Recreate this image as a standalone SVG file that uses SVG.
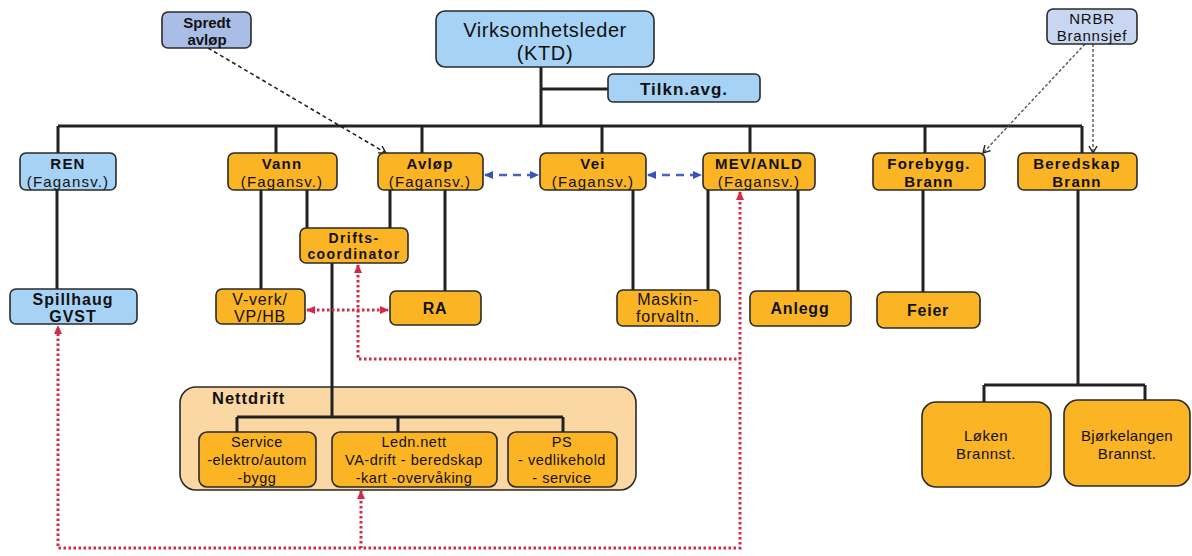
<svg xmlns="http://www.w3.org/2000/svg" width="1192" height="556" viewBox="0 0 1192 556">
<defs>
<style>
text{font-family:"Liberation Sans",Arial,sans-serif;fill:#111;text-anchor:middle}
.b{font-weight:bold}
.box{stroke:#2a2a2a;stroke-width:1.6}
.or{fill:#fbb424}
.bl{fill:#a6d3f5}
.l2{font-size:15px;letter-spacing:1.2px}
.l3{font-size:16px;letter-spacing:0.8px}
.sub{font-size:14.5px;letter-spacing:0.5px}
.tree{fill:none;stroke:#222;stroke-width:3}
.red{fill:none;stroke:#d42a45;stroke-width:3;stroke-dasharray:2.5 2.5}
.blu{fill:none;stroke:#4a62c4;stroke-width:2.5;stroke-dasharray:8 6}
.blk{fill:none;stroke:#222;stroke-width:1.6;stroke-dasharray:4 3}
.gry{fill:none;stroke:#555;stroke-width:1.4;stroke-dasharray:3 2}
</style>
<marker id="ao" markerWidth="10" markerHeight="10" refX="8" refY="5" orient="auto" markerUnits="userSpaceOnUse"><path d="M1,1 L8,5 L1,9" fill="none" stroke="#222" stroke-width="1.4"/></marker>
<marker id="ab" markerWidth="10" markerHeight="10" refX="8" refY="5" orient="auto-start-reverse" markerUnits="userSpaceOnUse"><path d="M0,1 L9,5 L0,9 Z" fill="#3a52b8"/></marker>
<marker id="ar" markerWidth="10" markerHeight="10" refX="8" refY="5" orient="auto-start-reverse" markerUnits="userSpaceOnUse"><path d="M0,1 L9,5 L0,9 Z" fill="#d42a45"/></marker>
</defs>
<rect width="1192" height="556" fill="#fff"/>

<g id="nettdrift"><rect class="box" x="180" y="387" width="456" height="103" rx="16" fill="#fbd7a3"/><text class="b" x="212" y="404" font-size="16.5" letter-spacing="1" style="text-anchor:start">Nettdrift</text></g>

<g id="connectors">
<path class="tree" d="M541,67 V126 M541,89 H608 M58,126 H1082 M58,126 V153 M276,126 V153 M422,126 V153 M602,126 V153 M750,126 V153 M925,126 V153 M1082,126 V153"/>
<path class="tree" d="M57,190 V289 M261,190 V289 M307,190 V228 M390,190 V228 M445,190 V291 M633,190 V290 M708,190 V290 M798,190 V291 M923,190 V292 M1078,190 V385 M984,385 H1145 M984,385 V402 M1145,385 V400"/>
<path class="tree" d="M332,263 V417 M237,417 H563 M237,417 V432 M398,417 V432 M563,417 V432"/>
<path class="blk" d="M208,48 L386,153" marker-end="url(#ao)"/>
<path class="gry" d="M1085,44 L983,153" marker-end="url(#ao)"/>
<path class="gry" d="M1093,44 V153" marker-end="url(#ao)"/>
<path class="blu" d="M485,175 H538" marker-start="url(#ab)" marker-end="url(#ab)"/>
<path class="blu" d="M648,175 H701" marker-start="url(#ab)" marker-end="url(#ab)"/>
<path class="red" d="M307,310 H388" marker-start="url(#ar)" marker-end="url(#ar)"/>
<path class="red" d="M358,265 V359 H740" marker-start="url(#ar)"/>
<path class="red" d="M740,192 V548 H58 V326" marker-start="url(#ar)" marker-end="url(#ar)"/>
<path class="red" d="M361,491 V548" marker-start="url(#ar)"/>
</g>

<g id="spredt"><rect class="box" x="162" y="12" width="89" height="36" rx="6" fill="#a9bde6"/><text class="b" x="207" y="28" font-size="15">Spredt</text><text class="b" x="207" y="45" font-size="15">avløp</text></g>
<g id="ktd"><rect class="box bl" x="436" y="11" width="218" height="56" rx="9"/><text x="545" y="37" font-size="20" letter-spacing="0.6">Virksomhetsleder</text><text x="545" y="60" font-size="20" letter-spacing="0.6">(KTD)</text></g>
<g id="tilkn"><rect class="box bl" x="608" y="74" width="152" height="28" rx="5"/><text class="b" x="684" y="95" font-size="17" letter-spacing="1">Tilkn.avg.</text></g>
<g id="nrbr"><rect class="box" x="1047" y="9" width="90" height="35" rx="6" fill="#c9d6f2"/><text x="1092" y="24" font-size="15" letter-spacing="0.8">NRBR</text><text x="1092" y="41" font-size="15" letter-spacing="0.8">Brannsjef</text></g>

<g id="ren"><rect class="box bl" x="20" y="153" width="96" height="37" rx="6"/><text class="b l2" x="68" y="169">REN</text><text class="l2" x="68" y="187">(Fagansv.)</text></g>
<g id="vann"><rect class="box or" x="228" y="153" width="109" height="37" rx="6"/><text class="b l2" x="282" y="169">Vann</text><text class="l2" x="282" y="187">(Fagansv.)</text></g>
<g id="avlop"><rect class="box or" x="378" y="153" width="105" height="37" rx="6"/><text class="b l2" x="430" y="169">Avløp</text><text class="l2" x="430" y="187">(Fagansv.)</text></g>
<g id="vei"><rect class="box or" x="540" y="153" width="106" height="37" rx="6"/><text class="b l2" x="593" y="169">Vei</text><text class="l2" x="593" y="187">(Fagansv.)</text></g>
<g id="mev"><rect class="box or" x="703" y="153" width="112" height="37" rx="6"/><text class="b l2" x="759" y="169">MEV/ANLD</text><text class="l2" x="759" y="187">(Fagansv.)</text></g>
<g id="forebygg"><rect class="box or" x="873" y="153" width="112" height="37" rx="6"/><text class="b l2" x="929" y="169" letter-spacing="1.8">Forebygg.</text><text class="b l2" x="929" y="187" letter-spacing="1.8">Brann</text></g>
<g id="beredskap"><rect class="box or" x="1018" y="153" width="119" height="37" rx="6"/><text class="b l2" x="1077" y="169" letter-spacing="1.8">Beredskap</text><text class="b l2" x="1077" y="187" letter-spacing="1.8">Brann</text></g>

<g id="drifts"><rect class="box or" x="300" y="228" width="108" height="35" rx="6"/><text class="b" x="354" y="243" font-size="14" letter-spacing="1.4">Drifts-</text><text class="b" x="354" y="259" font-size="14" letter-spacing="1.4">coordinator</text></g>
<g id="spillhaug"><rect class="box bl" x="10" y="289" width="127" height="35" rx="6"/><text class="b" x="73" y="305" font-size="16" letter-spacing="1">Spillhaug</text><text class="b" x="73" y="322" font-size="16" letter-spacing="1">GVST</text></g>
<g id="vverk"><rect class="box or" x="216" y="289" width="89" height="35" rx="6"/><text class="l3" x="260" y="305">V-verk/</text><text class="l3" x="260" y="322">VP/HB</text></g>
<g id="ra"><rect class="box or" x="390" y="291" width="91" height="34" rx="6"/><text class="b l3" x="435" y="314">RA</text></g>
<g id="maskin"><rect class="box or" x="617" y="290" width="103" height="36" rx="6"/><text class="l3" x="668" y="305">Maskin-</text><text class="l3" x="668" y="322">forvaltn.</text></g>
<g id="anlegg"><rect class="box or" x="750" y="291" width="101" height="35" rx="6"/><text class="b l3" x="800" y="314">Anlegg</text></g>
<g id="feier"><rect class="box or" x="877" y="292" width="103" height="36" rx="7"/><text class="b l3" x="928" y="316">Feier</text></g>

<g id="service"><rect class="box or" x="199" y="432" width="117" height="55" rx="8"/><text class="sub" x="257" y="447">Service</text><text class="sub" x="257" y="465">-elektro/autom</text><text class="sub" x="257" y="483">-bygg</text></g>
<g id="lednett"><rect class="box or" x="332" y="432" width="165" height="55" rx="8"/><text class="sub" x="414" y="447">Ledn.nett</text><text class="sub" x="414" y="465">VA-drift  - beredskap</text><text class="sub" x="414" y="483">-kart -overvåking</text></g>
<g id="ps"><rect class="box or" x="508" y="432" width="109" height="55" rx="8"/><text class="sub" x="562" y="447">PS</text><text class="sub" x="562" y="465">- vedlikehold</text><text class="sub" x="562" y="483">- service</text></g>

<g id="loken"><rect class="box or" x="922" y="402" width="129" height="85" rx="14"/><text x="986" y="441" font-size="15" letter-spacing="0.5">Løken</text><text x="986" y="459" font-size="15" letter-spacing="0.5">Brannst.</text></g>
<g id="bjorkelangen"><rect class="box or" x="1064" y="400" width="126" height="86" rx="14"/><text x="1127" y="441" font-size="15" letter-spacing="0.3">Bjørkelangen</text><text x="1127" y="459" font-size="15" letter-spacing="0.3">Brannst.</text></g>
</svg>
